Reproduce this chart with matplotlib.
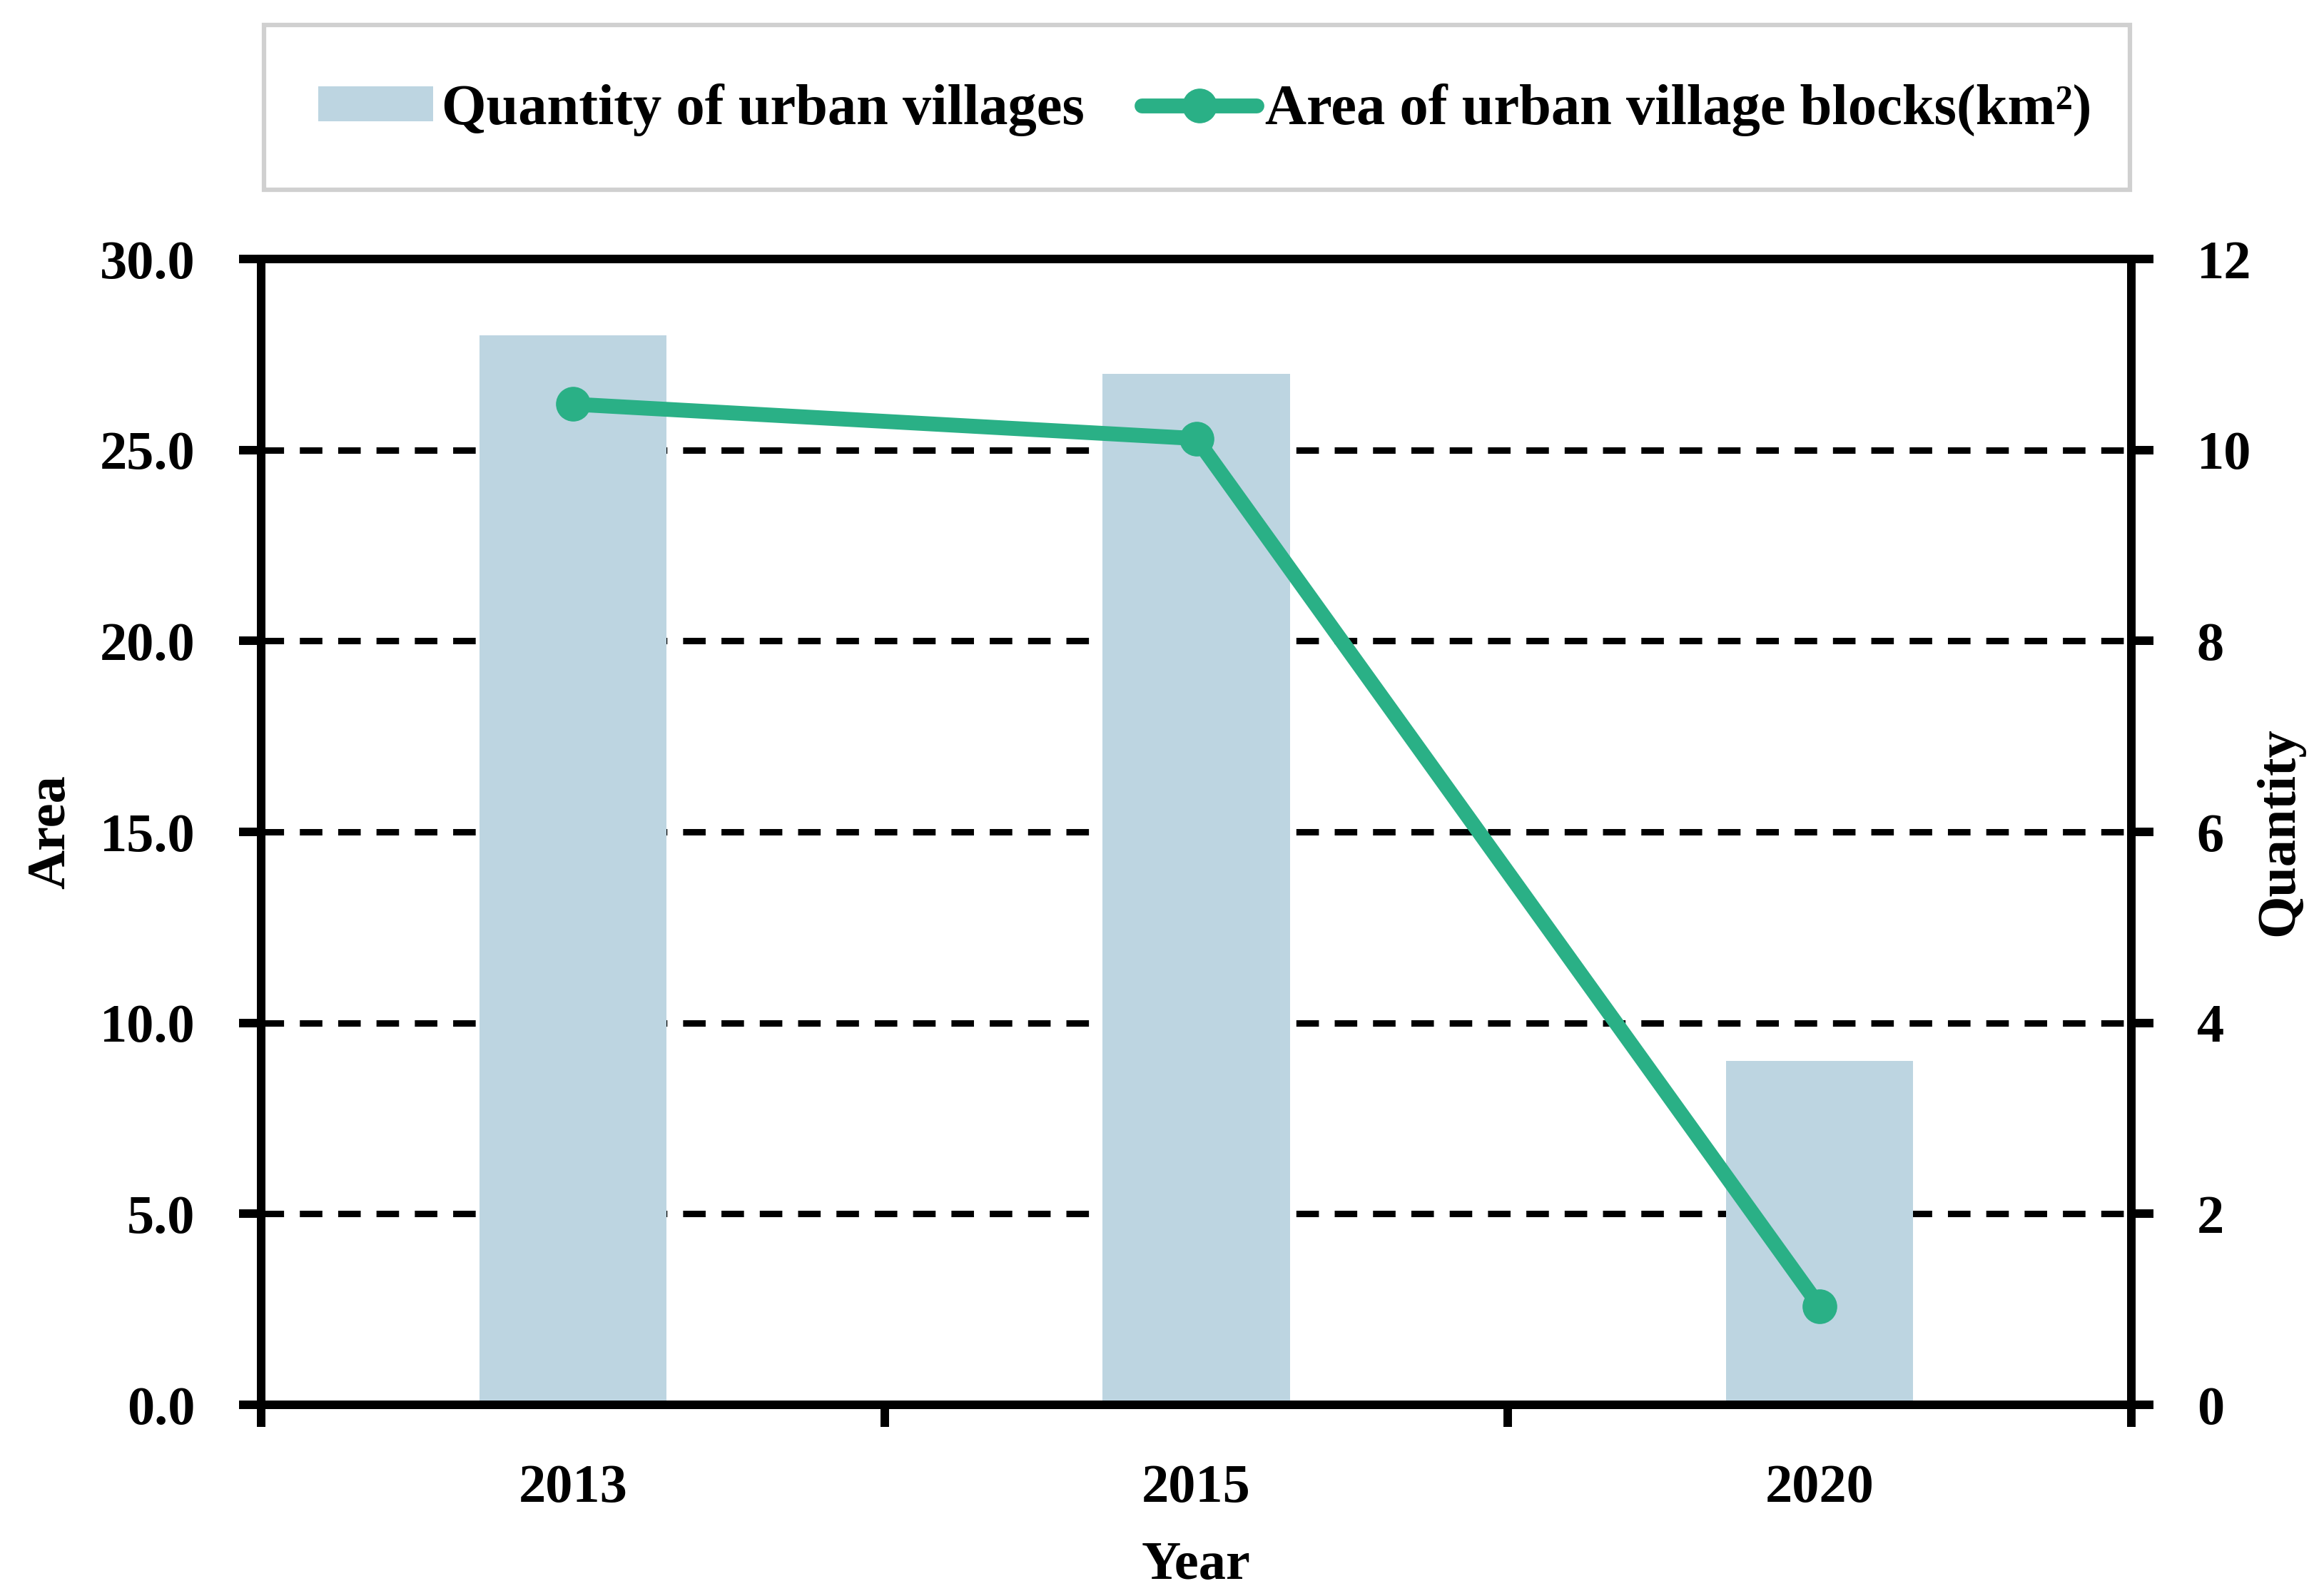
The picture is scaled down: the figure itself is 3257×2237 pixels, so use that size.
import matplotlib
matplotlib.use("Agg")
import matplotlib.pyplot as plt
from matplotlib.patches import Rectangle
from matplotlib.ticker import FormatStrFormatter, FixedLocator

# data
years = ["2013", "2015", "2020"]
village_quantity = [28, 27, 9]          # bars, drawn on the left scale
block_area = [10.48, 10.12, 1.03]       # line, drawn on the right scale

bar_color = "#BDD5E1"
line_color = "#2AB086"

plt.rcParams["font.family"] = ["Liberation Serif", "DejaVu Serif"]
plt.rcParams["font.weight"] = "bold"
FS = 55
LEG_FS = 58

fig = plt.figure(figsize=(32.57, 22.37), dpi=100)
ax = fig.add_axes([0.1124, 0.1198, 0.8047, 0.7179])
ax2 = ax.twinx()

x = list(range(len(years)))
bars = ax.bar(x, village_quantity, width=0.3, color=bar_color, zorder=2,
              label="Quantity of urban villages")
line, = ax2.plot(x, block_area, color=line_color, lw=15, marker="o", ms=34,
                 solid_capstyle="round", zorder=3,
                 label="Area of urban village blocks(km\u00b2)")

ax.set_xlim(-0.5, 2.5)
ax.set_ylim(0, 30)
ax2.set_ylim(0, 12)

ax.set_yticks([0, 5, 10, 15, 20, 25, 30])
ax.yaxis.set_major_formatter(FormatStrFormatter("%.1f"))
ax2.set_yticks([0, 2, 4, 6, 8, 10, 12])

ax.set_xticks(x)
ax.set_xticklabels(years)
ax.xaxis.set_minor_locator(FixedLocator([-0.5, 0.5, 1.5, 2.5]))
ax.tick_params(axis="x", which="major", length=0, pad=60, labelsize=FS)
ax.tick_params(axis="x", which="minor", length=22, width=8.6, direction="out")
ax.tick_params(axis="y", length=22, width=8.6, direction="out", pad=45, labelsize=FS)
ax2.tick_params(axis="y", length=22, width=8.6, direction="out", pad=44, labelsize=FS)

for a in (ax, ax2):
    for s in a.spines.values():
        s.set_linewidth(8.6)
        s.set_color("black")

ax.set_axisbelow(True)
ax.yaxis.grid(True, color="black", lw=6.5, linestyle=(0, (3.5, 2.45)), zorder=1)

ax.set_ylabel("Area", fontsize=FS, fontweight="bold")
ax.yaxis.set_label_coords(-0.099, 0.5)
ax2.set_ylabel("Quantity", fontsize=FS, fontweight="bold")
ax2.yaxis.set_label_coords(1.066, 0.5)
ax.set_xlabel("Year", fontsize=FS, fontweight="bold")
ax.xaxis.set_label_coords(0.5, -0.119)

# legend box across the top
fig.patches.append(Rectangle((370 / 3257, 1 - 266 / 2237), 2615 / 3257, 231 / 2237,
                             transform=fig.transFigure, facecolor="white",
                             edgecolor="#D0D0D0", lw=4.5))
fig.legend([bars, line], [bars.get_label(), line.get_label()],
           loc="center", bbox_to_anchor=(0.5185, 1 - 154 / 2237), ncol=2,
           frameon=False, fontsize=LEG_FS, handlelength=2.0, handleheight=0.55,
           handletextpad=0.15, columnspacing=1.0)

fig.savefig("out.png", dpi=100)
